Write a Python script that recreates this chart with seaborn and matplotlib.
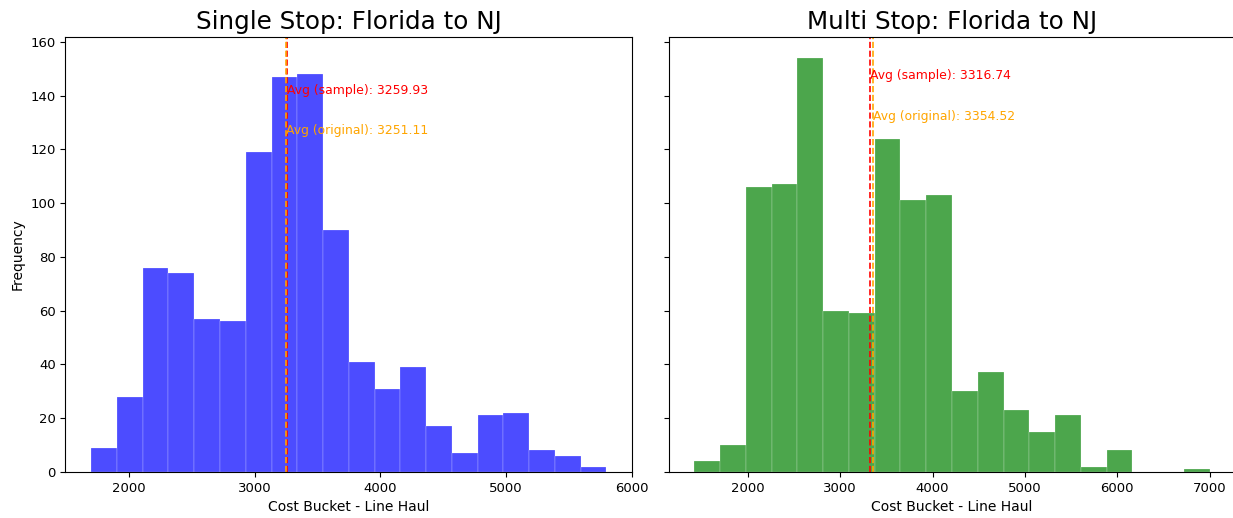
import numpy as np
import pandas as pd
import matplotlib
matplotlib.use("Agg")
import matplotlib.pyplot as plt
import seaborn as sns

# bin counts (20 equal bins each)
single_counts = [9, 28, 76, 74, 57, 56, 119, 147, 148, 90,
                 41, 31, 39, 17, 7, 21, 22, 8, 6, 2]
single_range = (1700, 5800)
single_avg_sample = 3259.93
single_avg_original = 3251.11

multi_counts = [4, 10, 106, 107, 154, 60, 59, 124, 101, 103,
                30, 37, 23, 15, 21, 2, 8, 0, 0, 1]
multi_range = (1420, 7000)
multi_avg_sample = 3316.74
multi_avg_original = 3354.52


def draw_panel(ax, counts, rng, color, title, avg_sample, avg_original):
    edges = np.linspace(rng[0], rng[1], len(counts) + 1)
    df = pd.DataFrame({'cost': (edges[:-1] + edges[1:]) / 2, 'n': counts})
    sns.histplot(data=df, x='cost', weights='n', bins=len(counts), binrange=rng,
                 ax=ax, color=color, alpha=0.7, edgecolor='white', linewidth=0.15)
    ax.axvline(avg_sample, color='red', linestyle='--', linewidth=1.2)
    ax.axvline(avg_original, color='orange', linestyle='--', linewidth=1.2)
    top = max(counts)
    ax.text(avg_sample, top * 0.95, 'Avg (sample): {:.2f}'.format(avg_sample),
            color='red', fontsize=8.9)
    ax.text(avg_original, top * 0.85, 'Avg (original): {:.2f}'.format(avg_original),
            color='orange', fontsize=8.9)
    ax.set_title(title, fontsize=17.7)
    ax.set_xlabel('Cost Bucket - Line Haul', fontsize=10)
    ax.tick_params(labelsize=9.5)


fig, axes = plt.subplots(1, 2, figsize=(12.33, 5.18), dpi=100, sharey=True)
plt.subplots_adjust(left=0.053, right=1.002, top=0.928, bottom=0.089, wspace=0.064)

draw_panel(axes[0], single_counts, single_range, 'blue',
           'Single Stop: Florida to NJ', single_avg_sample, single_avg_original)
draw_panel(axes[1], multi_counts, multi_range, 'green',
           'Multi Stop: Florida to NJ', multi_avg_sample, multi_avg_original)
axes[0].set_ylabel('Frequency', fontsize=10)
axes[1].set_ylabel('')

fig.savefig('out.png', dpi=100)
